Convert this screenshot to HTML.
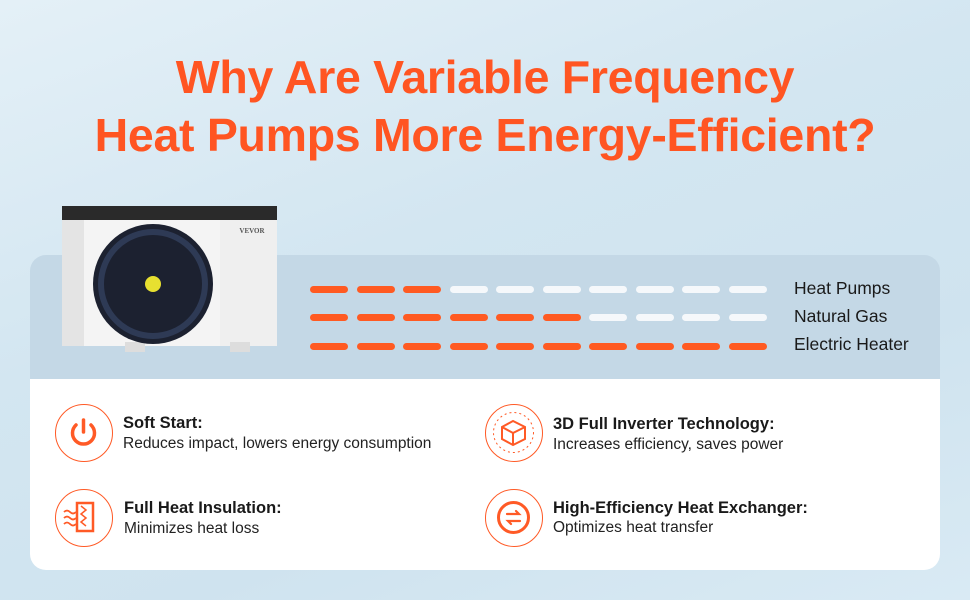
<!DOCTYPE html>
<html><head><meta charset="utf-8"><style>
*{margin:0;padding:0;box-sizing:border-box}
body{width:970px;height:600px;overflow:hidden;position:relative;font-family:"Liberation Sans",sans-serif;
background:linear-gradient(160deg,#e4f0f7 0%,#d3e6f1 40%,#cfe3ef 70%,#d9eaf4 100%)}
.t{position:absolute;left:0;width:970px;text-align:center;color:#ff5522;font-weight:bold;font-size:46.5px;letter-spacing:-0.3px}
.band{position:absolute;left:30px;top:255px;width:910px;height:124px;background:#c4d8e6;border-radius:16px 16px 0 0}
.white{position:absolute;left:30px;top:379px;width:910px;height:191px;background:#fff;border-radius:0 0 16px 16px}
.seg{position:absolute;height:7px;width:38px;border-radius:4px}
.lab{position:absolute;left:794px;font-size:17.5px;color:#1a1a1a}
.ic{position:absolute;width:58px;height:58px;border:1.5px solid #ff5a26;border-radius:50%}
.h{position:absolute;font-size:16.5px;font-weight:bold;color:#1a1a1a}
.s{position:absolute;font-size:15.5px;color:#222}
</style></head><body>
<div class="t" style="top:50px">Why Are Variable Frequency</div>
<div class="t" style="top:108px">Heat Pumps More Energy-Efficient?</div>
<div class="band"></div>
<div class="white"></div>
<svg style="position:absolute;left:50px;top:192px" width="240" height="168">
<rect x="12" y="14" width="215" height="14" fill="#2a2a2a"/>
<rect x="12" y="28" width="215" height="126" fill="#f4f4f4"/>
<rect x="12" y="28" width="22" height="126" fill="#e4e4e4"/>
<rect x="170" y="28" width="57" height="126" fill="#efefef"/>
<rect x="75" y="150" width="20" height="10" fill="#ddd"/><rect x="180" y="150" width="20" height="10" fill="#ddd"/>
<circle cx="103" cy="92" r="60" fill="#1c2130"/>
<circle cx="103" cy="92" r="52" fill="none" stroke="#2e3a55" stroke-width="6"/>
<circle cx="103" cy="92" r="8" fill="#e7e030"/>
<text x="202" y="41" font-size="7" font-weight="bold" fill="#555" text-anchor="middle" font-family="Liberation Serif">VEVOR</text>
</svg>
<div id="bars"></div>
<div class="lab" style="top:278px">Heat Pumps</div>
<div class="lab" style="top:306px">Natural Gas</div>
<div class="lab" style="top:334px">Electric Heater</div>
<script>
var rows=[[286,3],[314,6],[343,10]],h='';
rows.forEach(function(r){for(var i=0;i<10;i++){h+='<div class="seg" style="left:'+(310+i*46.5)+'px;top:'+r[0]+'px;background:'+(i<r[1]?'#ff5a22':'#f5f8fb')+'"></div>';}});
document.getElementById('bars').innerHTML=h;
</script>
<div class="ic" style="left:55px;top:404px"><svg width="55" height="55"><path d="M20 20 A11 11 0 1 0 35 20" fill="none" stroke="#ff5a26" stroke-width="3.5" stroke-linecap="round"/><line x1="27.5" y1="15" x2="27.5" y2="27" stroke="#ff5a26" stroke-width="3.5" stroke-linecap="round"/></svg></div>
<div class="ic" style="left:55px;top:489px"><svg width="55" height="55"><rect x="21" y="13" width="16" height="28" fill="none" stroke="#ff5a26" stroke-width="2.5"/><path d="M25 16 l5 4 -5 4 5 4 -5 4 5 4" fill="none" stroke="#ff5a26" stroke-width="1.5"/><path d="M8 22 q3-3 6 0 t6 0 M8 28 q3-3 6 0 t6 0 M8 34 q3-3 6 0 t6 0" fill="none" stroke="#ff5a26" stroke-width="1.8"/></svg></div>
<div class="ic" style="left:485px;top:404px"><svg width="55" height="55"><path d="M16 22 L27 16 L39 22 L39 34 L27 40 L16 34 Z M16 22 L27 28 L39 22 M27 28 L27 40" fill="none" stroke="#ff5a26" stroke-width="2"/><circle cx="27.5" cy="27.5" r="20" fill="none" stroke="#ff5a26" stroke-width="1" stroke-dasharray="2 3"/></svg></div>
<div class="ic" style="left:485px;top:489px"><svg width="55" height="55"><circle cx="27.5" cy="27.5" r="15" fill="none" stroke="#ff5a26" stroke-width="3"/><path d="M21 24 h12 l-3 -3 M34 31 h-12 l3 3" fill="none" stroke="#ff5a26" stroke-width="2.2" stroke-linecap="round"/></svg></div>
<div class="h" style="left:123px;top:414px">Soft Start:</div>
<div class="s" style="left:123px;top:435px">Reduces impact, lowers energy consumption</div>
<div class="h" style="left:124px;top:499px">Full Heat Insulation:</div>
<div class="s" style="left:124px;top:520px">Minimizes heat loss</div>
<div class="h" style="left:553px;top:415px">3D Full Inverter Technology:</div>
<div class="s" style="left:553px;top:436px">Increases efficiency, saves power</div>
<div class="h" style="left:553px;top:499px">High-Efficiency Heat Exchanger:</div>
<div class="s" style="left:553px;top:519px">Optimizes heat transfer</div>
</body></html>
